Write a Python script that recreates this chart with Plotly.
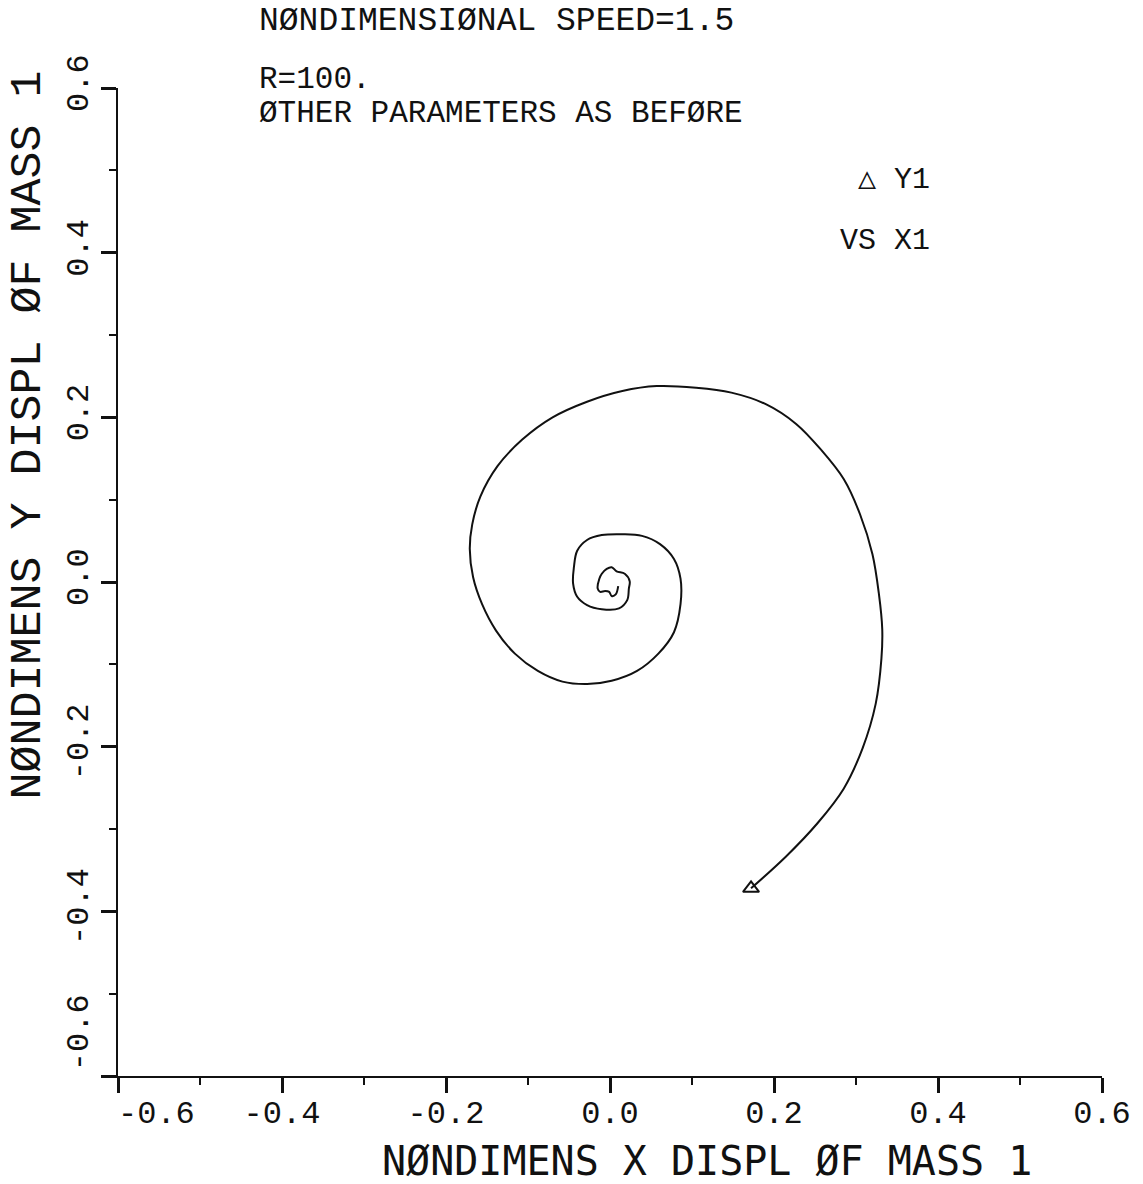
import plotly.graph_objects as go

# Trajectory of mass 1 (nondimensional) (start -> centre)
x1 = [0.172, 0.215, 0.253, 0.285, 0.308, 0.324, 0.331, 0.332, 0.328, 0.320,
      0.305, 0.285, 0.257, 0.227, 0.190, 0.148, 0.105, 0.057, 0.015, -0.028,
      -0.070, -0.107, -0.137, -0.158, -0.168, -0.171, -0.167, -0.156, -0.139, -0.116,
      -0.088, -0.058, -0.028, 0.002, 0.033, 0.059, 0.078, 0.086, 0.086, 0.078,
      0.061, 0.039, 0.015, -0.010, -0.028, -0.040, -0.044, -0.045, -0.040, -0.028,
      -0.010, 0.011, 0.021, 0.023, 0.024, 0.018, 0.008, 0.002, -0.004, -0.010,
      -0.013, -0.015, -0.012, -0.006, -0.001, 0.002, 0.007, 0.010]
y1 = [-0.372, -0.333, -0.293, -0.251, -0.202, -0.148, -0.093, -0.057, -0.015, 0.034,
      0.082, 0.125, 0.161, 0.192, 0.216, 0.230, 0.236, 0.238, 0.232, 0.219,
      0.200, 0.173, 0.141, 0.104, 0.070, 0.040, 0.006, -0.027, -0.059, -0.087,
      -0.108, -0.121, -0.124, -0.120, -0.108, -0.087, -0.061, -0.027, 0.004, 0.028,
      0.046, 0.056, 0.058, 0.057, 0.051, 0.038, 0.018, -0.002, -0.018, -0.028,
      -0.033, -0.032, -0.022, -0.008, 0.001, 0.010, 0.013, 0.018, 0.016, 0.010,
      0.004, -0.008, -0.012, -0.011, -0.012, -0.017, -0.015, -0.005]

tick_vals = [-0.6, -0.4, -0.2, 0.0, 0.2, 0.4, 0.6]
minor_vals = [-0.5, -0.3, -0.1, 0.1, 0.3, 0.5]
x_tick_text = ["\u00a0\u00a0\u00a0\u00a0-0.6", "-0.4", "-0.2", "0.0", "0.2", "0.4", "0.6"]
y_tick_text = ["\u00a0\u00a0\u00a0\u00a0-0.6", "-0.4", "-0.2", "0.0", "0.2", "0.4", "0.6"]

title_line = "NØNDIMENSIØNAL SPEED=1.5"
note_lines = ["R=100.", "ØTHER PARAMETERS AS BEFØRE"]
legend_lines = ["△ Y1", "VS X1"]
x_title = "NØNDIMENS X DISPL ØF MASS 1"
y_title = "NØNDIMENS Y DISPL ØF MASS 1"

FONT = "Liberation Mono, DejaVu Sans Mono, monospace"
FONT_X = "DejaVu Sans Mono, Liberation Mono, monospace"
INK = "#111111"

fig = go.Figure()
fig.add_trace(go.Scatter(x=x1, y=y1, mode="lines",
                         line=dict(color=INK, width=2, shape="spline", smoothing=1.0),
                         showlegend=False, hoverinfo="skip"))
fig.add_trace(go.Scatter(x=x1[:1], y=y1[:1], mode="markers",
                         marker=dict(symbol="triangle-up-open", size=14, color=INK,
                                     line=dict(width=2, color=INK)),
                         showlegend=False, hoverinfo="skip"))

axis_common = dict(range=[-0.6, 0.6], showgrid=False, zeroline=False,
                   showline=True, linecolor=INK, linewidth=2,
                   ticks="outside", ticklen=15, tickwidth=3, tickcolor=INK,
                   tickvals=tick_vals,
                   tickfont=dict(family=FONT, size=32, color=INK),
                   minor=dict(tickvals=minor_vals, ticklen=7,
                              tickwidth=1.5, tickcolor=INK, ticks="outside", showgrid=False))

fig.update_xaxes(**axis_common, ticktext=x_tick_text, tickangle=0, ticklabelstandoff=-8)
fig.update_yaxes(**axis_common, ticktext=y_tick_text, tickangle=-90, ticklabelstandoff=0)

L, R, T, B = 118, 1108, 88, 1076
W, H = 1143, 1184


def px(xp):
    return (xp - L) / (R - L)


def py(yp):
    return (B - yp) / (B - T)


ann = []
ann.append(dict(text=title_line, x=px(258), y=py(22), xanchor="left", yanchor="middle",
                font=dict(family=FONT, size=33, color=INK)))
ann.append(dict(text=note_lines[0], x=px(258), y=py(79), xanchor="left", yanchor="middle",
                font=dict(family=FONT, size=31, color=INK)))
ann.append(dict(text=note_lines[1], x=px(258), y=py(113), xanchor="left", yanchor="middle",
                font=dict(family=FONT, size=31, color=INK)))
ann.append(dict(text=legend_lines[0], x=px(937), y=py(180), xanchor="right", yanchor="middle",
                font=dict(family=FONT, size=30, color=INK)))
ann.append(dict(text=legend_lines[1], x=px(937), y=py(241), xanchor="right", yanchor="middle",
                font=dict(family=FONT, size=30, color=INK)))
ann.append(dict(text=x_title, x=px(711), y=py(1161), xanchor="center", yanchor="middle",
                font=dict(family=FONT_X, size=40, color=INK)))
ann.append(dict(text=y_title, x=px(28), y=py(435), xanchor="center", yanchor="middle",
                textangle=-90, font=dict(family=FONT, size=45, color=INK)))
for a in ann:
    a.update(xref="paper", yref="paper", showarrow=False)

fig.update_layout(width=W, height=H, autosize=False,
                  margin=dict(l=L, r=W - R, t=T, b=H - B, pad=0),
                  paper_bgcolor="white", plot_bgcolor="white",
                  annotations=ann, showlegend=False)

fig.write_html("out.html", config={"displayModeBar": False})
